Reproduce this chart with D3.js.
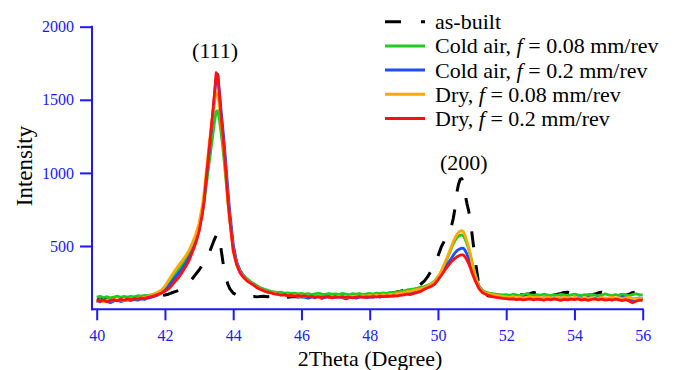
<!DOCTYPE html>
<html>
<head>
<meta charset="utf-8">
<script src="https://cdn.jsdelivr.net/npm/d3@7"></script>
<style>
  html, body { margin: 0; padding: 0; background: #fff; }
  svg { display: block; }
  svg text { font-family: "Liberation Serif", "Times New Roman", serif !important; }
</style>
</head>
<body>
<script>
// 2θ sampling positions (degrees); finer spacing across the two reflections
const twoTheta = [
  40.0,40.1,40.2,40.3,40.4,40.5,40.6,40.7,40.8,40.9,
  41.0,41.1,41.2,41.3,41.4,41.5,41.6,41.7,41.8,41.9,
  42.0,42.1,42.2,42.3,42.4,42.5,42.6,42.7,42.8,42.9,
  43.0,43.1,43.15,43.2,43.25,43.3,43.35,43.4,43.45,43.5,43.55,43.6,43.65,43.7,43.75,43.8,43.85,43.9,
  44.0,44.1,44.2,44.3,44.4,44.5,44.6,44.7,44.8,44.9,
  45.0,45.1,45.2,45.3,45.4,45.5,45.6,45.7,45.8,45.9,
  46.0,46.1,46.2,46.3,46.4,46.5,46.6,46.7,46.8,46.9,
  47.0,47.1,47.2,47.3,47.4,47.5,47.6,47.7,47.8,47.9,
  48.0,48.1,48.2,48.3,48.4,48.5,48.6,48.7,48.8,48.9,
  49.0,49.1,49.2,49.3,49.4,49.5,49.6,49.7,49.8,49.9,
  50.0,50.1,50.2,50.3,50.4,50.45,50.5,50.55,50.6,50.65,50.7,50.75,50.8,50.85,50.9,50.95,51.0,
  51.1,51.2,51.3,51.4,51.5,51.6,51.7,51.8,51.9,
  52.0,52.1,52.2,52.3,52.4,52.5,52.6,52.7,52.8,52.9,
  53.0,53.1,53.2,53.3,53.4,53.5,53.6,53.7,53.8,53.9,
  54.0,54.1,54.2,54.3,54.4,54.5,54.6,54.7,54.8,54.9,
  55.0,55.1,55.2,55.3,55.4,55.5,55.6,55.7,55.8,55.9,
  56.0
];

// Intensity for each condition, same order as twoTheta
const asBuilt = [
  135,130,138,133,129,136,131,139,134,140,
  137,143,140,146,143,150,153,157,162,160,
  165,170,180,188,196,206,222,246,276,306,
  336,372,392,412,432,455,485,515,545,570,585,565,470,390,328,270,235,208,
  178,165,160,158,156,154,155,152,154,156,
  153,155,151,154,152,156,150,153,155,151,
  154,152,156,153,150,155,152,157,154,151,
  155,153,158,162,170,168,160,155,158,156,
  158,160,163,166,170,172,176,180,185,190,
  196,202,210,216,224,240,260,290,330,380,
  430,495,540,580,640,690,760,860,920,955,960,920,850,790,740,680,580,
  390,230,178,162,158,156,160,158,162,
  165,161,166,163,168,165,170,174,182,178,
  168,164,167,163,166,170,175,182,184,178,
  166,162,165,168,163,167,171,180,184,176,
  165,161,166,163,167,164,170,181,185,179,
  176
];

const coldAir008 = [
  150,156,147,153,145,151,157,149,155,150,
  156,152,160,157,163,160,166,172,181,193,
  212,240,274,304,338,368,400,440,490,548,
  618,730,805,895,985,1075,1165,1255,1345,1420,1425,1355,1265,1165,1045,920,790,680,
  490,388,332,300,278,258,243,228,215,205,
  198,190,186,181,184,177,180,174,178,172,
  176,170,174,168,173,177,171,169,175,170,
  173,168,176,171,166,174,170,175,169,172,
  176,171,178,174,180,176,183,179,186,190,
  193,199,203,207,212,218,222,232,243,260,
  288,325,375,430,488,515,538,555,566,573,576,568,545,515,480,440,388,
  300,228,198,185,178,174,170,168,165,
  168,163,170,165,161,167,172,166,162,168,
  164,170,166,161,168,163,169,165,160,166,
  171,165,160,167,163,169,164,158,166,172,
  166,161,168,163,170,165,160,167,173,168,
  166
];

const coldAir02 = [
  122,118,127,121,112,124,129,120,126,131,
  127,134,130,138,135,144,149,157,166,180,
  200,224,254,284,314,344,378,418,468,528,
  608,738,830,940,1050,1160,1275,1395,1525,1650,1675,1545,1415,1295,1165,1015,865,735,
  512,392,332,296,270,251,236,220,207,197,
  188,182,175,171,166,168,161,164,158,155,
  152,148,143,150,146,152,141,148,153,145,
  149,153,146,138,147,151,144,150,153,147,
  152,148,156,150,158,154,160,157,164,168,
  172,176,180,186,192,198,208,220,232,248,
  276,310,345,383,418,437,453,466,475,481,485,483,468,444,414,380,345,
  278,222,192,176,166,159,153,150,147,
  145,141,146,139,143,148,141,145,139,144,
  140,146,142,137,144,139,146,141,136,143,
  139,145,141,136,143,148,140,145,139,144,
  140,146,138,143,148,141,136,130,139,145,
  142
];

const dry008 = [
  120,127,118,131,124,135,128,133,126,137,
  135,142,139,148,146,155,160,172,185,200,
  225,262,300,334,368,398,430,468,518,578,
  655,780,870,985,1095,1205,1305,1400,1485,1550,1535,1450,1340,1220,1090,945,795,675,
  470,375,322,292,268,250,234,219,206,196,
  188,181,177,171,168,164,166,160,162,157,
  159,154,158,151,155,148,152,156,150,154,
  151,157,153,149,156,152,158,154,160,156,
  162,158,164,160,167,163,170,167,174,178,
  182,188,192,198,203,209,215,226,238,256,
  286,330,385,440,500,530,556,576,592,601,605,596,566,530,490,440,380,
  290,220,192,178,172,168,162,158,155,
  152,148,153,146,150,144,149,152,146,150,
  147,143,150,145,141,148,144,150,146,142,
  148,143,139,146,141,148,137,144,149,140,
  145,150,142,147,138,144,149,141,136,143,
  140
];

const dry02 = [
  128,122,131,119,126,133,125,136,129,138,
  132,141,136,145,140,149,154,160,170,178,
  192,206,230,258,284,318,356,398,455,518,
  600,725,815,940,1055,1175,1290,1410,1540,1685,1665,1515,1375,1250,1110,960,800,680,
  468,372,316,286,262,246,232,214,203,193,
  184,180,172,170,164,167,160,163,157,160,
  155,158,152,156,150,154,149,153,151,147,
  152,148,154,149,151,146,150,153,148,152,
  150,155,151,157,153,158,155,160,157,163,
  166,170,168,176,183,190,204,214,224,238,
  268,300,335,365,395,405,415,425,432,437,440,437,424,404,380,350,315,
  258,208,182,169,160,153,148,145,142,
  140,136,139,133,137,131,135,138,132,136,
  134,129,136,131,138,133,128,135,131,137,
  133,138,130,135,128,134,139,131,136,130,
  134,129,136,131,127,133,124,112,122,130,
  128
];

// Legend / series descriptions
const seriesPrefix = ["as-built", "Cold air, ", "Cold air, ", "Dry, ", "Dry, "];
const seriesFeed   = [null, "0.08", "0.2", "0.08", "0.2"];
const seriesColors = ["#000000", "#1ecb1e", "#1f4cff", "#ffa800", "#ff1010"];
const seriesValues = [asBuilt, coldAir008, coldAir02, dry008, dry02];

// Axis ticks and peak annotations
const xTicks = [40, 42, 44, 46, 48, 50, 52, 54, 56];
const yTicks = [500, 1000, 1500, 2000];
const peakLabels = ["(111)", "(200)"];
const peakPos = [43.47, 50.76];
const peakLabelLevel = [1845, 1080];

const W = 681, H = 370;
const axisColor = "#1a1aff";
const serif = '"Liberation Serif", "Times New Roman", serif';

const svg = d3.select("body").append("svg")
  .attr("width", W).attr("height", H);

const x = d3.scaleLinear().domain([40, 56]).range([96.7, 642.7]);
const y = d3.scaleLinear().domain([67, 2000]).range([309.3, 26.7]);

// Data traces: as-built underneath, then the machined conditions
const line = d3.line()
  .x((d, i) => x(twoTheta[i]))
  .y(d => y(d));

seriesValues.forEach((vals, k) => {
  svg.append("path")
    .datum(vals)
    .attr("fill", "none")
    .attr("stroke", seriesColors[k])
    .attr("stroke-width", k === 0 ? 3 : 2.8)
    .attr("stroke-linejoin", "round")
    .attr("stroke-dasharray", k === 0 ? "16,18" : null)
    .attr("d", line);
});

// Y axis
const gy = svg.append("g")
  .attr("transform", "translate(92,0)")
  .call(d3.axisLeft(y).tickValues(yTicks).tickSize(12).tickSizeOuter(0).tickPadding(6).tickFormat(d3.format("d")));
gy.attr("font-family", null).attr("font-size", null);
gy.select(".domain").remove();
gy.selectAll(".tick line").attr("stroke", axisColor).attr("stroke-width", 2);
gy.selectAll(".tick text").attr("fill", axisColor)
  .style("font-size", "16px").style("font-family", serif);
svg.append("line")
  .attr("x1", 92).attr("x2", 92)
  .attr("y1", y(2000) - 1).attr("y2", y.range()[0] + 1)
  .attr("stroke", axisColor).attr("stroke-width", 2);

// X axis
const gx = svg.append("g")
  .attr("transform", `translate(0,${y.range()[0]})`)
  .call(d3.axisBottom(x).tickValues(xTicks).tickSize(11).tickSizeOuter(0).tickPadding(9));
gx.attr("font-family", null).attr("font-size", null);
gx.select(".domain").remove();
gx.selectAll(".tick line").attr("stroke", axisColor).attr("stroke-width", 2);
gx.selectAll(".tick text").attr("fill", axisColor)
  .style("font-size", "16px").style("font-family", serif);
svg.append("line")
  .attr("x1", 91).attr("x2", x(56) + 1)
  .attr("y1", y.range()[0]).attr("y2", y.range()[0])
  .attr("stroke", axisColor).attr("stroke-width", 2);

// Axis titles
svg.append("text")
  .attr("transform", "translate(32,166) rotate(-90)")
  .attr("text-anchor", "middle")
  .style("font-size", "23px")
  .attr("fill", "#000")
  .text("Intensity");

svg.append("text")
  .attr("x", 370).attr("y", 366)
  .attr("text-anchor", "middle")
  .style("font-size", "22px")
  .attr("fill", "#000")
  .text("2Theta (Degree)");

// Reflection labels
peakLabels.forEach((lab, i) => {
  svg.append("text")
    .attr("x", x(peakPos[i]))
    .attr("y", y(peakLabelLevel[i]) + 9)
    .attr("text-anchor", "middle")
    .style("font-size", "22px")
    .attr("fill", "#000")
    .text(lab);
});

// Legend
const legend = svg.append("g").attr("transform", "translate(385,21.7)");
seriesPrefix.forEach((pre, i) => {
  const row = legend.append("g").attr("transform", `translate(0,${i * 24.2})`);
  row.append("line")
    .attr("x1", 0).attr("x2", 40).attr("y1", 0).attr("y2", 0)
    .attr("stroke", seriesColors[i])
    .attr("stroke-width", 3)
    .attr("stroke-dasharray", i === 0 ? "16,20" : null);
  const t = row.append("text")
    .attr("x", 50).attr("y", 7.5)
    .style("font-size", "22px")
    .attr("fill", "#000");
  t.append("tspan").text(pre);
  if (seriesFeed[i] !== null) {
    t.append("tspan").attr("font-style", "italic").text("f");
    t.append("tspan").text(` = ${seriesFeed[i]} mm/rev`);
  }
});
</script>
</body>
</html>
